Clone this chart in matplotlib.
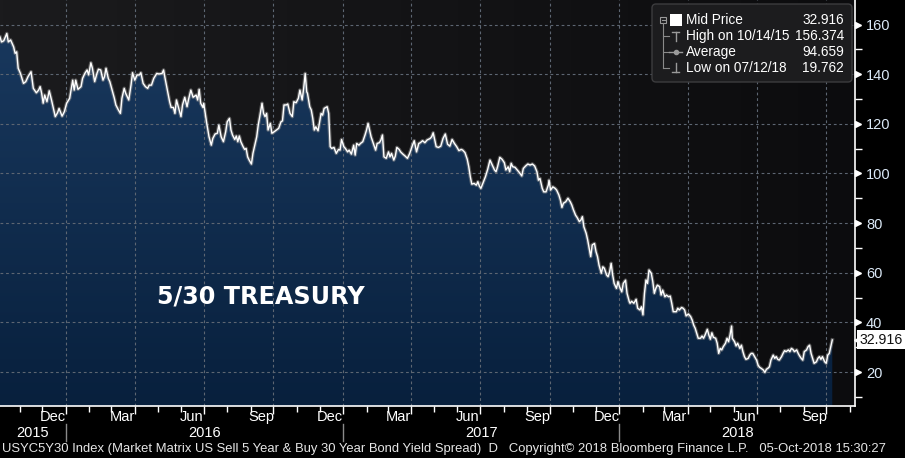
import datetime as dt

import numpy as np
import matplotlib
matplotlib.use("Agg")
import matplotlib.pyplot as plt
import matplotlib.dates as mdates
from matplotlib.colors import LinearSegmentedColormap
from matplotlib.patches import FancyBboxPatch, Polygon, Rectangle

plt.rcParams["font.family"] = ["Liberation Sans", "DejaVu Sans"]

# ---- data ----
start = dt.date(2015, 10, 6)
days = [0, 2, 5, 9, 11, 14, 18, 20, 22, 24, 27, 31, 34, 37, 41, 44, 48, 51, 53, 55,
        57, 59, 62, 65, 68, 70, 73, 76, 78, 82, 85, 88, 92, 96, 98, 100, 103, 107, 109, 112,
        115, 117, 120, 122, 125, 128, 130, 133, 136, 138, 140, 143, 145, 148, 151, 153, 156, 159, 161, 164,
        166, 170, 173, 175, 178, 181, 184, 186, 189, 192, 195, 197, 200, 203, 207, 210, 214, 216, 218, 221,
        224, 226, 229, 231, 233, 236, 239, 241, 244, 247, 249, 252, 255, 259, 261, 263, 265, 268, 269, 273,
        276,
        279, 281, 284, 287, 289, 292, 295, 298, 300, 303, 305, 307, 310, 312, 314, 316, 318, 321, 323, 325,
        327, 329, 332, 334, 336, 339, 341, 343, 346, 348, 350, 352, 354, 357, 359, 362, 365, 368, 371, 373,
        375, 378, 380, 383, 386, 388, 391, 394, 396, 399, 401, 403, 405, 406, 409, 411, 413, 415, 417, 420,
        422, 424, 426, 428, 432, 434, 436, 438, 441, 444, 447, 449, 451, 454, 456, 459, 461, 464, 467, 469,
        471, 474, 476, 479, 482, 484, 486, 488, 490, 493, 496, 498, 501, 503, 505, 507, 510, 513, 515, 517,
        520, 522, 524, 527, 529, 532, 535, 538, 541, 544, 547, 550, 553,
        555, 558, 561, 564, 568, 570, 572, 576, 579, 582, 585, 588, 591, 594, 597, 600, 603, 606, 609, 611,
        614, 617, 619, 621, 623, 626, 629, 631, 633, 635, 638, 641, 644, 647, 650, 653, 655, 657, 660, 663,
        666, 668, 671, 673, 675, 677, 680, 683, 686, 689, 691, 694, 697, 700, 703, 706, 709, 711, 713, 716,
        718, 721, 724, 725, 727, 730, 733, 735, 738, 740, 742, 744, 747, 750, 753, 755, 757, 760, 762, 765,
        767, 769, 771, 774, 776, 778, 780, 782, 785, 787, 789, 791, 794, 796, 798, 801, 803, 805, 807, 809,
        811, 814, 816, 818, 821, 823, 826, 828, 831,
        832, 834, 837, 840, 842, 845, 847, 849, 851, 853, 855, 857, 860, 862, 864, 866, 868, 871, 873, 875,
        878, 880, 883, 885, 887, 889, 893, 895, 897, 900, 902, 904, 906, 909, 912, 914, 916, 918, 920, 922,
        925, 927, 929, 931, 934, 936, 938, 940, 942, 945, 947, 949, 951, 953, 955, 958, 960, 962, 964, 966,
        967, 970, 972, 974, 977, 979, 981, 983, 985, 988, 990, 992, 994, 996, 999, 1001, 1003, 1005, 1008, 1010,
        1012, 1014, 1016, 1018, 1021, 1023, 1025, 1027, 1029, 1032, 1034, 1036, 1038, 1041, 1043, 1045, 1047, 1049, 1052, 1054,
        1056, 1058, 1060, 1062, 1065, 1067, 1069, 1071, 1073, 1075, 1078, 1080, 1082, 1084, 1086, 1089, 1091, 1093, 1095, 1097,
        1099]
spread = [155.0, 153.0, 153.5, 156.4, 153.0, 153.8, 151.0, 148.4, 149.0, 142.4, 140.3, 136.3, 137.0, 139.0, 141.0, 134.3, 132.5, 133.6, 135.0, 132.3,
          128.3, 131.6, 128.9, 133.3, 129.6, 126.9, 122.9, 124.5, 126.2, 123.1, 124.9, 128.3, 130.3, 137.6, 133.6, 137.6, 133.9, 135.0, 138.3, 140.3,
          141.7, 139.7, 144.6, 142.4, 137.0, 140.3, 142.0, 141.7, 137.6, 139.0, 142.4, 138.3, 137.0, 133.6, 130.3, 127.6, 125.8, 124.2, 130.3, 134.3,
          132.3, 129.6, 135.6, 140.6, 137.6, 139.7, 139.7, 140.6, 136.3, 135.0, 134.3, 135.6, 135.6, 138.3, 140.3, 140.1, 140.3, 141.7, 138.3, 133.6,
          128.9, 126.6, 126.6, 124.2, 129.6, 126.2, 122.9, 127.6, 130.7, 126.9, 129.9, 133.6, 130.7, 131.6, 129.6, 133.9, 128.3, 126.6, 128.3, 120.2,
          114.8,
          111.4, 114.1, 115.9, 116.2, 119.5, 114.8, 112.8, 116.8, 120.8, 122.2, 117.5, 115.5, 113.7, 115.1, 112.8, 115.1, 112.8, 110.8, 109.7, 110.1,
          106.7, 105.4, 103.8, 108.1, 110.8, 114.8, 119.5, 122.9, 128.3, 124.2, 122.9, 124.2, 117.5, 120.2, 116.2, 116.8, 117.5, 118.2, 120.8, 121.2,
          127.6, 127.6, 128.0, 124.2, 122.9, 128.9, 128.5, 130.3, 133.6, 129.6, 134.3, 140.3, 132.9, 132.3, 126.9, 125.6, 122.2, 117.5, 118.8, 117.2,
          120.8, 124.2, 123.5, 126.2, 126.9, 124.2, 110.8, 110.1, 110.5, 108.1, 109.7, 109.4, 113.7, 110.8, 110.1, 108.7, 109.4, 107.8, 111.4, 107.4,
          112.1, 111.4, 112.1, 112.8, 115.5, 117.5, 120.2, 117.5, 114.8, 112.1, 109.4, 112.1, 112.4, 113.5, 115.5, 106.7, 106.1, 108.7, 106.7, 108.1,
          105.4, 107.0, 110.5, 109.7, 108.7, 107.8, 107.0, 106.1, 108.1, 110.8, 113.2, 108.7, 112.1,
          112.4, 113.2, 112.4, 113.5, 114.1, 114.8, 116.4, 110.8, 110.5, 111.0, 114.1, 115.9, 111.8, 111.0, 113.7, 112.1, 110.8, 109.2, 109.7, 109.4,
          108.4, 105.7, 102.7, 98.7, 95.7, 96.0, 95.3, 96.7, 94.9, 94.0, 96.3, 98.7, 101.7, 105.4, 103.4, 101.4, 100.7, 102.7, 106.5, 105.7,
          104.3, 101.4, 102.7, 100.7, 104.1, 102.7, 102.5, 101.4, 100.3, 99.0, 102.0, 103.0, 103.8, 103.4, 103.8, 103.0, 100.7, 97.3, 98.0, 94.0,
          92.6, 92.6, 95.3, 97.3, 93.3, 94.6, 94.0, 93.3, 91.3, 89.3, 86.3, 88.0, 88.6, 90.0, 88.6, 87.3, 85.5, 83.2, 82.3, 80.6,
          81.2, 82.6, 78.5, 75.9, 73.2, 69.8, 66.5, 71.2, 71.8, 68.5, 66.5, 63.1, 59.8, 62.4, 61.8, 59.1, 58.4, 60.4, 63.8, 59.1,
          55.7, 53.7, 56.4, 54.4, 52.3, 55.7, 57.0, 51.7, 48.3,
          47.7, 48.5, 47.7, 49.3, 45.7, 45.0, 46.3, 43.0, 51.7, 57.1, 55.7, 61.1, 59.8, 56.4, 51.7, 53.7, 55.0, 54.4, 51.0, 53.0,
          50.3, 51.0, 50.3, 50.6, 47.7, 44.3, 44.3, 45.7, 45.0, 46.0, 45.7, 45.0, 42.6, 43.4, 42.3, 40.9, 38.9, 37.6, 35.6, 33.6,
          33.6, 34.5, 33.6, 34.9, 37.2, 34.9, 33.2, 35.8, 34.0, 33.6, 31.6, 27.5, 29.5, 28.9, 30.2, 31.6, 33.6, 32.2, 34.9, 38.5,
          33.6, 32.2, 30.5, 31.6, 29.5, 30.8, 28.2, 26.2, 25.1, 25.5, 26.8, 27.5, 27.5, 26.4, 24.8, 22.8, 21.9, 21.5, 20.8, 19.8,
          21.1, 21.5, 22.1, 24.8, 26.8, 25.5, 26.2, 25.1, 24.8, 26.2, 27.5, 28.6, 28.2, 28.9, 28.2, 29.5, 29.1, 28.2, 28.9, 27.5,
          26.4, 25.5, 24.8, 28.2, 28.9, 30.2, 30.8, 27.5, 25.5, 23.5, 24.1, 25.5, 26.2, 25.1, 26.2, 24.1, 23.5, 26.8, 27.5, 30.2,
          32.916]

legend_rows = ["Mid Price", "High on 10/14/15", "Average", "Low on 07/12/18"]
legend_vals = ["32.916", "156.374", "94.659", "19.762"]
y_major = [20, 40, 60, 80, 100, 120, 140, 160]
y_minor = [10, 30, 50, 70, 90, 110, 130, 150]
month_labels = [(2015, 12, "Dec"), (2016, 3, "Mar"), (2016, 6, "Jun"), (2016, 9, "Sep"),
                (2016, 12, "Dec"), (2017, 3, "Mar"), (2017, 6, "Jun"), (2017, 9, "Sep"),
                (2017, 12, "Dec"), (2018, 3, "Mar"), (2018, 6, "Jun"), (2018, 9, "Sep")]
years = [2015, 2016, 2017, 2018]
title = "5/30 TREASURY"
footer = ("USYC5Y30 Index (Market Matrix US Sell 5 Year & Buy 30 Year Bond Yield Spread)  D   "
          "Copyright\u00a9 2018 Bloomberg Finance L.P.   05-Oct-2018 15:30:27")

x_lo, x_hi = dt.date(2015, 10, 6), dt.date(2018, 11, 8)
y_lo, y_hi = 6.3, 169.9

x = mdates.date2num([start + dt.timedelta(days=d) for d in days])
y = np.array(spread)
xl, xh = mdates.date2num(x_lo), mdates.date2num(x_hi)

fig = plt.figure(figsize=(9.05, 4.58), dpi=100, facecolor="black")
ax = fig.add_axes([0, 52 / 458, 855 / 905, 406 / 458])

# dark background, a bit lighter on the left
bg = LinearSegmentedColormap.from_list("bg", ["#1b1b1d", "#0c0c0e"])
ax.imshow(np.linspace(0, 1, 256).reshape(1, -1), cmap=bg, extent=[xl, xh, y_lo, y_hi],
          aspect="auto", zorder=0)

# navy area fill with vertical gradient
verts = np.vstack([np.column_stack([x, y]), [[x[-1], y_lo], [x[0], y_lo]]])
area = Polygon(verts, closed=True, facecolor="none", edgecolor="none", transform=ax.transData)
ax.add_patch(area)
navy = LinearSegmentedColormap.from_list("navy", ["#08203d", "#1a3a60"])
im = ax.imshow(np.linspace(0, 1, 256).reshape(-1, 1), cmap=navy, origin="lower",
               extent=[xl, xh, y_lo, y_hi], aspect="auto", zorder=1)
im.set_clip_path(area)

# grid
quarters = [dt.date(yr, mo, 1) for yr in range(2015, 2019) for mo in (1, 4, 7, 10)]
for v in y_major:
    ax.axhline(v, color="#5d6672", lw=0.8, ls=(0, (2.5, 2.5)), zorder=2)
for q in quarters:
    if x_lo < q < x_hi:
        ax.axvline(mdates.date2num(q), color="#5d6672", lw=0.8, ls=(0, (2.5, 2.5)), zorder=2)

# series line with a soft glow
ax.plot(x, y, color="#8c8c8c", lw=2.6, alpha=0.55, zorder=3)
ax.plot(x, y, color="white", lw=1.0, zorder=4)

ax.set_xlim(xl, xh)
ax.set_ylim(y_lo, y_hi)

for s in ["top", "left"]:
    ax.spines[s].set_visible(False)
for s in ["bottom", "right"]:
    ax.spines[s].set_color("white")
    ax.spines[s].set_linewidth(1.2)

# y axis on the right
ax.yaxis.tick_right()
ax.set_yticks(y_major)
ax.set_yticks(y_minor, minor=True)
ax.tick_params(axis="y", which="major", length=0, pad=8, labelsize=10.5, labelcolor="#dbe9f7")
ax.tick_params(axis="y", which="minor", length=5, width=1, color="white", direction="out")
ax.plot([1.0035] * len(y_major), y_major, ls="none", marker=">", ms=5, color="white",
        transform=ax.get_yaxis_transform(), clip_on=False, zorder=5)

# x axis: month ticks, custom labels
ax.xaxis.set_major_locator(mdates.MonthLocator(bymonth=[1, 4, 7, 10]))
ax.xaxis.set_minor_locator(mdates.MonthLocator())
ax.tick_params(axis="x", which="major", length=6, width=1, color="white", labelbottom=False)
ax.tick_params(axis="x", which="minor", length=4, width=1, color="white")

xt = ax.get_xaxis_transform()
for yr, mo, lab in month_labels:
    ax.text(mdates.date2num(dt.date(yr, mo, 15)), -0.028, lab, transform=xt,
            ha="center", va="center", color="white", fontsize=10.5)
for yr in years:
    a = max(mdates.date2num(dt.date(yr, 1, 1)), xl)
    b = min(mdates.date2num(dt.date(yr + 1, 1, 1)), xh)
    ax.text((a + b) / 2, -0.066, str(yr), transform=xt, ha="center", va="center",
            color="white", fontsize=10.5)
    if yr > years[0]:
        ax.plot([a, a], [-0.045, -0.087], transform=xt, color="#8a8a8a", lw=1, clip_on=False)

# last price tag
last = y[-1]
ax.plot([1.0055], [last], marker="<", ms=8, color="white", transform=ax.get_yaxis_transform(),
        clip_on=False, zorder=6)
ax.text(1.0555, last, f"{last:.3f}", transform=ax.get_yaxis_transform(), ha="right", va="center",
        fontsize=10.2, color="#101010", zorder=7,
        bbox=dict(boxstyle="square,pad=0.18", fc="white", ec="none"))

# overlay in pixel coordinates for the annotations
ov = fig.add_axes([0, 0, 1, 1])
ov.set_xlim(0, 905)
ov.set_ylim(458, 0)
ov.axis("off")
ov.patch.set_alpha(0)

ov.text(261, 297, title, ha="center", va="center", color="white", fontsize=17.2,
        fontweight="bold", family="DejaVu Sans")

# legend box
ov.add_patch(FancyBboxPatch((652, 4), 200, 78, boxstyle="round,pad=0,rounding_size=4",
                            fc="#1c1c1e", ec="#3c3c3e", lw=1))
row_y = [20, 36, 52, 68]
for ry, lab, val in zip(row_y, legend_rows, legend_vals):
    ov.text(686, ry, lab, ha="left", va="center", color="white", fontsize=9.8)
    ov.text(844, ry, val, ha="right", va="center", color="white", fontsize=9.8)
ov.add_patch(Rectangle((660, 16.5), 6, 6, fc="none", ec="#9a9a9a", lw=0.8))
ov.plot([661.5, 664.5], [19.5, 19.5], color="#9a9a9a", lw=0.8)
ov.add_patch(Rectangle((670, 13.5), 12, 12, fc="white", ec="none"))
ov.plot([663, 663], [22.5, 68], color="#8a8a8a", lw=0.8)
for ry in row_y[1:]:
    ov.plot([663, 669], [ry, ry], color="#8a8a8a", lw=0.8)
ov.plot([675.5, 675.5], [32, 41], color="#9a9a9a", lw=1)
ov.plot([672, 679], [32, 32], color="#9a9a9a", lw=1)
ov.plot([669, 682], [52, 52], color="#9a9a9a", lw=1)
ov.plot([675.5], [52], marker="o", ms=3, color="#9a9a9a")
ov.plot([675.5, 675.5], [63, 72], color="#9a9a9a", lw=1)
ov.plot([672, 679], [72, 72], color="#9a9a9a", lw=1)

# footer
ov.text(2, 449, footer, ha="left", va="center", color="#e6e6e6", fontsize=9.35)

fig.savefig("out.png", dpi=100, facecolor="black")
